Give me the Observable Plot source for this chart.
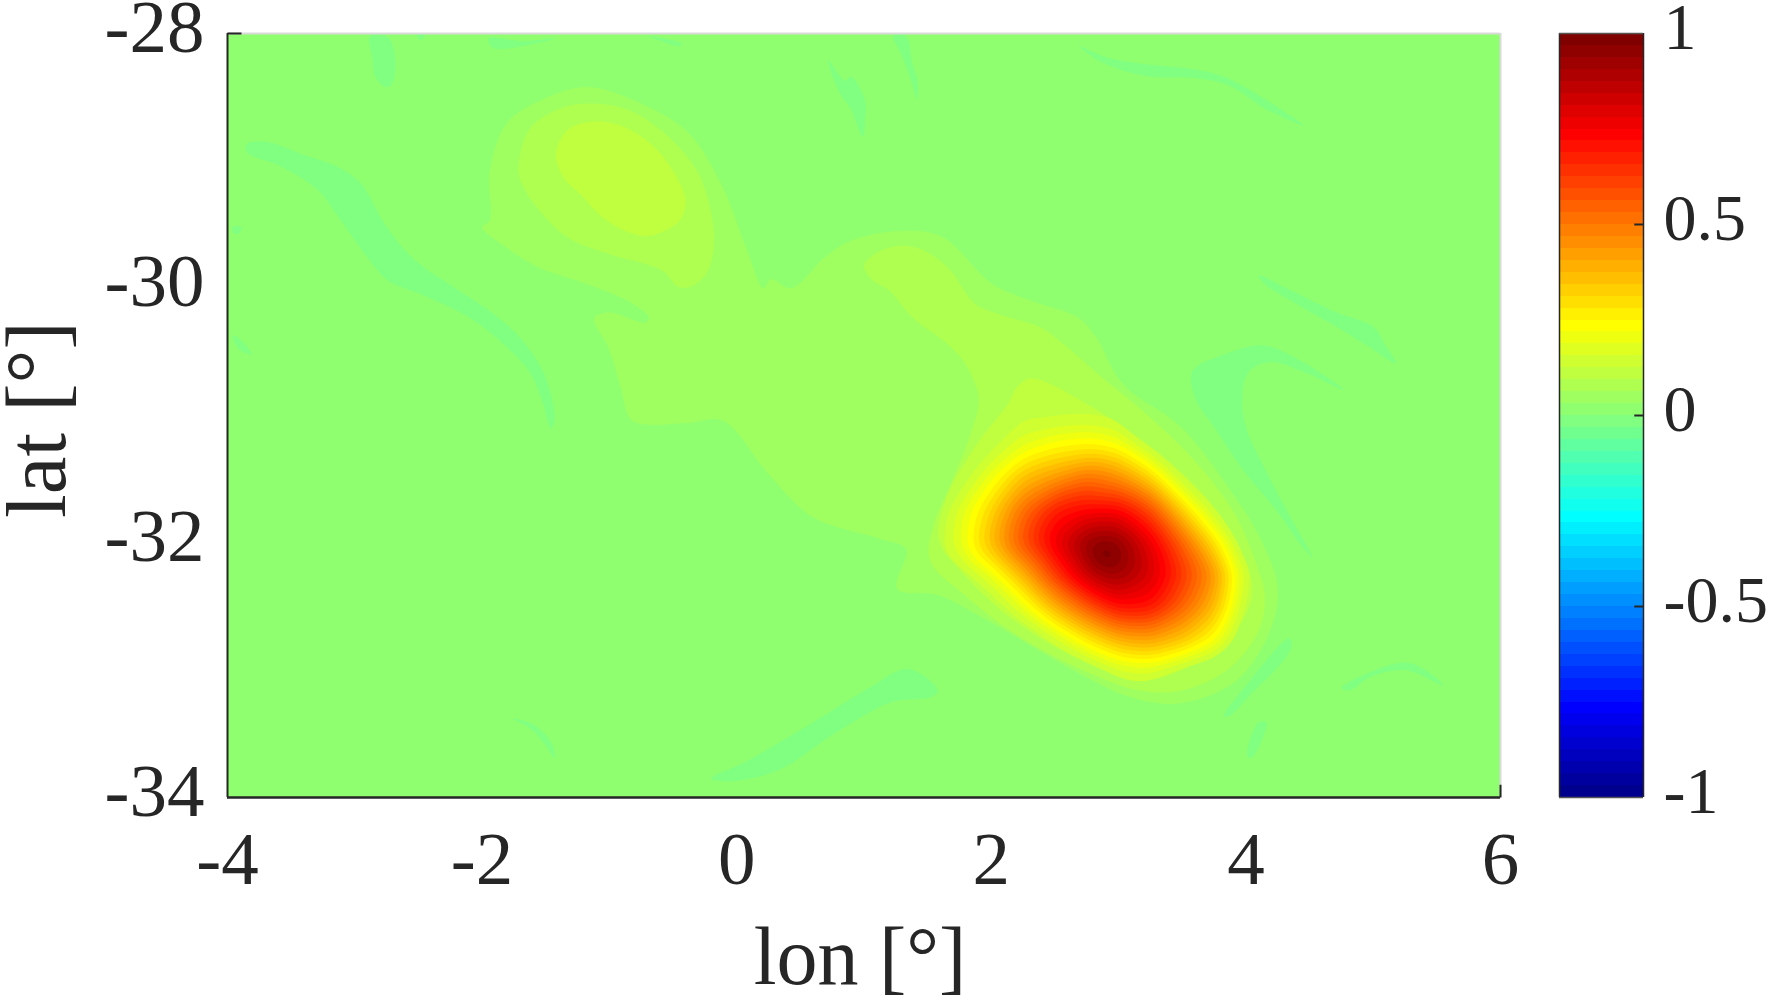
<!DOCTYPE html>
<html>
<head>
<meta charset="utf-8">
<style>
  html, body { margin: 0; padding: 0; background: #fff; }
  #chart { position: relative; width: 1769px; height: 1005px; overflow: hidden; }
  #chart svg { position: absolute; left: 0; top: 0; background: transparent; }
</style>
<script src="https://cdn.jsdelivr.net/npm/d3@7"></script>
<script src="https://cdn.jsdelivr.net/npm/@observablehq/plot@0.6"></script>
</head>
<body>
<div id="chart"></div>
<script>
// Axis ticks
const lonTicks = [-4, -2, 0, 2, 4, 6];
const latTicks = [-28, -30, -32, -34];
const barTicks = [1, 0.5, 0, -0.5, -1];

// Strong anomaly: values read on a lon/lat lattice, row by row
const peakLon = [1.5, 1.75, 2, 2.25, 2.5, 2.75, 3, 3.25, 3.5, 3.75, 4, 4.25];
const peakLat = [-31, -31.25, -31.5, -31.75, -32, -32.25, -32.5, -32.75, -33, -33.25];
const peakRows = [
  [.05, .06, .07, .115, .105, .11, .085, .065, .05, .04, .03, .02],
  [.045, .065, .11, .19, .245, .265, .235, .10, .075, .04, .03, .02],
  [.05, .09, .21, .37, .44, .53, .47, .33, .11, .08, .05, .03],
  [.06, .165, .32, .53, .70, .74, .75, .61, .33, .11, .07, .05],
  [.07, .18, .37, .59, .78, .95, .96, .78, .55, .29, .065, .05],
  [.055, .085, .19, .38, .63, .85, .93, .82, .64, .45, .125, .06],
  [.04, .05, .08, .19, .39, .57, .73, .72, .55, .38, .10, .05],
  [.03, .04, .05, .06, .14, .28, .40, .43, .36, .24, .07, .04],
  [.02, .03, .04, .05, .05, .07, .14, .16, .095, .06, .04, .03],
  [.02, .02, .03, .04, .05, .055, .065, .06, .05, .04, .03, .02]
];
const peakTop = {lon: 2.91, lat: -32.086, value: 1.05};

// Faint contour bands as [lon, lat] outlines
const bandOne = [[-1.17,-28.42],[-.69,-28.58],[-.37,-28.79],[-.11,-29.21],[.08,-29.70],[.21,-30.00],[.27,-29.93],[.43,-30.00],[.69,-29.76],[.89,-29.63],[1.31,-29.55],[1.62,-29.60],[2.01,-29.97],[2.32,-30.10],[2.68,-30.23],[2.82,-30.38],[3.03,-30.75],[3.49,-31.09],[3.88,-31.59],[4.12,-31.98],[4.25,-32.35],[4.19,-32.69],[3.93,-33.08],[3.49,-33.26],[3.09,-33.21],[2.70,-33.03],[1.92,-32.58],[1.58,-32.41],[1.26,-32.36],[1.33,-32.05],[1.13,-31.97],[.60,-31.80],[.25,-31.46],[-.11,-31.04],[-.40,-31.06],[-.82,-31.04],[-.91,-30.78],[-1.01,-30.46],[-1.12,-30.24],[-1.01,-30.19],[-.72,-30.27],[-.69,-30.23],[-.82,-30.12],[-1.17,-29.97],[-1.55,-29.84],[-1.81,-29.68],[-2.00,-29.52],[-1.94,-29.47],[-1.94,-29.08],[-1.81,-28.71],[-1.55,-28.53]];
const bandTwoNorth = [[-1.17,-28.55],[-.85,-28.60],[-.56,-28.79],[-.30,-29.10],[-.19,-29.47],[-.18,-29.68],[-.24,-29.89],[-.37,-29.99],[-.46,-29.99],[-.59,-29.86],[-1.01,-29.73],[-1.33,-29.60],[-1.55,-29.39],[-1.70,-29.15],[-1.71,-29.00],[-1.62,-28.74],[-1.39,-28.59]];
const bandThreeNorth = [[-1.10,-28.69],[-.85,-28.75],[-.62,-28.92],[-.46,-29.15],[-.40,-29.32],[-.45,-29.47],[-.59,-29.56],[-.72,-29.59],[-.88,-29.55],[-1.07,-29.43],[-1.23,-29.26],[-1.36,-29.13],[-1.42,-28.95],[-1.33,-28.76]];
const bandTwoSouth = [[1.00,-29.82],[1.17,-29.69],[1.41,-29.68],[1.66,-29.84],[1.87,-30.12],[2.08,-30.21],[2.39,-30.31],[2.57,-30.44],[2.81,-30.65],[3.22,-30.99],[3.62,-31.38],[3.91,-31.77],[4.09,-32.19],[4.15,-32.43],[4.09,-32.71],[3.85,-33.00],[3.49,-33.16],[3.17,-33.16],[2.70,-32.99],[2.18,-32.71],[1.78,-32.40],[1.52,-32.14],[1.54,-31.88],[1.68,-31.54],[1.84,-31.14],[1.90,-30.91],[1.89,-30.80],[1.78,-30.57],[1.62,-30.41],[1.38,-30.23],[1.20,-30.02],[1.06,-29.93]];
const bandThreeSouth = [[2.31,-30.71],[2.70,-30.88],[3.36,-31.33],[3.75,-31.72],[3.98,-32.11],[4.05,-32.40],[3.88,-32.74],[3.49,-33.00],[3.17,-33.08],[2.70,-32.92],[2.18,-32.61],[1.78,-32.24],[1.59,-31.98],[1.65,-31.64],[1.89,-31.22],[2.13,-30.91],[2.20,-30.78]];

// Slightly negative filaments, [lon, lat] outlines
const negativePatches = [
  [[-3.85,-28.87],[-3.70,-28.85],[-3.41,-28.95],[-3.13,-29.05],[-2.95,-29.18],[-2.77,-29.49],[-2.55,-29.76],[-2.26,-29.97],[-1.94,-30.18],[-1.71,-30.38],[-1.54,-30.62],[-1.47,-30.80],[-1.43,-31.04],[-1.46,-31.10],[-1.52,-30.91],[-1.62,-30.67],[-1.81,-30.46],[-2.07,-30.25],[-2.45,-30.06],[-2.74,-29.94],[-2.90,-29.76],[-3.13,-29.44],[-3.29,-29.23],[-3.57,-29.05],[-3.85,-28.93]],
  [[-2.88,-28.02],[-2.74,-28.03],[-2.68,-28.21],[-2.71,-28.40],[-2.76,-28.42],[-2.84,-28.34],[-2.86,-28.21]],
  [[-1.95,-28.04],[-1.68,-28.06],[-1.43,-28.04],[-1.81,-28.12],[-1.92,-28.11]],
  [[-.70,-28.02],[-.43,-28.08],[-.45,-28.10],[-.62,-28.05]],
  [[-2.52,-28.00],[-2.45,-28.01],[-2.48,-28.05]],
  [[-3.96,-30.37],[-3.88,-30.42],[-3.81,-30.52],[-3.91,-30.48]],
  [[-3.96,-29.52],[-3.89,-29.52],[-3.91,-29.57],[-3.95,-29.57]],
  [[.72,-28.21],[.85,-28.37],[.90,-28.34],[1.01,-28.53],[1.01,-28.66],[.99,-28.81],[.90,-28.60],[.80,-28.45]],
  [[1.23,-28.02],[1.33,-28.02],[1.38,-28.24],[1.42,-28.37],[1.42,-28.52],[1.36,-28.34],[1.29,-28.16]],
  [[2.69,-28.10],[2.92,-28.19],[3.20,-28.24],[3.59,-28.28],[3.83,-28.34],[4.11,-28.49],[4.45,-28.72],[4.15,-28.59],[3.87,-28.41],[3.59,-28.35],[3.27,-28.34],[3.03,-28.29],[2.82,-28.20]],
  [[4.10,-29.90],[4.36,-30.02],[4.71,-30.19],[5.01,-30.31],[5.09,-30.44],[5.18,-30.59],[4.95,-30.45],[4.74,-30.32],[4.39,-30.12],[4.15,-29.97]],
  [[3.58,-30.65],[3.83,-30.52],[4.14,-30.45],[4.43,-30.57],[4.77,-30.80],[4.46,-30.66],[4.19,-30.58],[4.02,-30.66],[3.97,-30.88],[4.01,-31.12],[4.17,-31.46],[4.35,-31.80],[4.52,-32.11],[4.46,-32.05],[4.22,-31.72],[3.98,-31.43],[3.75,-31.09],[3.60,-30.86]],
  [[-.20,-33.85],[.07,-33.72],[.60,-33.41],[1.04,-33.14],[1.35,-32.99],[1.58,-33.16],[1.53,-33.21],[1.22,-33.25],[.78,-33.49],[.34,-33.78],[-.02,-33.87]],
  [[3.83,-33.36],[4.01,-33.11],[4.34,-32.75],[4.36,-32.81],[4.30,-32.92],[4.04,-33.19],[3.87,-33.36]],
  [[4.01,-33.67],[4.10,-33.41],[4.16,-33.41],[4.13,-33.54],[4.04,-33.69]],
  [[4.75,-33.14],[4.99,-33.01],[5.26,-32.94],[5.43,-33.01],[5.55,-33.12],[5.26,-33.00],[4.99,-33.05],[4.81,-33.16]],
  [[-1.76,-33.38],[-1.59,-33.43],[-1.45,-33.58],[-1.43,-33.69],[-1.51,-33.58],[-1.62,-33.46]]
];

// ---- tables and scales built from the arrays above ----
const step = 1 / 32;
const m = 64, n = 16;
const u = j => j <= n ? j / n : j < 2 * n ? 1 : (3 * n - j) / n;
const ch = (i, off) => { const j = i - off; return j >= 1 && j <= 47 ? u(j) : 0; };
const jet = d3.range(1, m + 1).map(i =>
  d3.rgb(255 * ch(i, 24), 255 * ch(i, 8), 255 * ch(i, -8)).formatHex());
const bandFloors = d3.range(-31, 32).map(k => k * step);
const colorScale = {type: "threshold", domain: bandFloors, range: jet};

const outlines = [];
const addOutline = (pts, level, id) => pts.forEach(p => outlines.push({lon: p[0], lat: p[1], level, id}));
addOutline(bandOne, step, "b1");
addOutline(bandTwoNorth, 2 * step, "b2n");
addOutline(bandTwoSouth, 2 * step, "b2s");
addOutline(bandThreeNorth, 3 * step, "b3n");
addOutline(bandThreeSouth, 3 * step, "b3s");
negativePatches.forEach((p, i) => addOutline(p, -step, "n" + i));

const peakCells = [peakTop];
peakRows.forEach((row, r) => row.forEach((value, c) => peakCells.push({lon: peakLon[c], lat: peakLat[r], value})));

const ink = "#262626";
const serif = "Liberation Serif";
const tickFont = 75;
const barFont = 66;
const labelFont = 82;

const main = Plot.plot({
  width: 1769, height: 1005,
  marginLeft: 227, marginRight: 269, marginTop: 33, marginBottom: 208,
  style: {background: "transparent", fontFamily: serif},
  x: {domain: [-4, 6], axis: null},
  y: {domain: [-34, -28], axis: null},
  color: colorScale,
  marks: [
    Plot.rect([0], {x1: () => -4, x2: () => 6, y1: () => -34, y2: () => -28, fill: d => d}),
    Plot.line(outlines, {x: "lon", y: "lat", z: "id", fill: "level", stroke: "none", curve: "catmull-rom-closed", clip: true}),
    Plot.contour(peakCells, {
      x: "lon", y: "lat", fill: "value",
      interpolate: "barycentric", pixelSize: 2, blur: 4,
      thresholds: d3.range(4, 32).map(k => k * step),
      stroke: "none"
    }),
    Plot.ruleY([-28], {stroke: "#d9d9d9", strokeWidth: 2}),
    Plot.ruleX([6], {stroke: "#d9d9d9", strokeWidth: 2}),
    Plot.ruleX([-4], {stroke: ink, strokeWidth: 2}),
    Plot.ruleY([-34], {stroke: ink, strokeWidth: 2.5}),
    Plot.link([0], {x1: () => -4, x2: () => -3.89, y1: () => -28, y2: () => -28, stroke: ink, strokeWidth: 2}),
    Plot.link([0], {x1: () => 6, x2: () => 6, y1: () => -34, y2: () => -33.9, stroke: ink, strokeWidth: 2}),
    Plot.axisX(lonTicks, {anchor: "bottom", tickSize: 0, tickPadding: 33, fontSize: tickFont, fill: ink,
      tickFormat: d => String(d), label: null, fontFamily: serif}),
    Plot.axisY(latTicks, {anchor: "left", tickSize: 0, tickPadding: 23, dy: -6, fontSize: tickFont, fill: ink,
      tickFormat: d => String(d), label: null, fontFamily: serif}),
    Plot.text(["lon [°]"], {frameAnchor: "bottom", dx: -4, dy: 186, lineAnchor: "bottom", fontSize: labelFont, fill: ink, fontFamily: serif}),
    Plot.text(["lat [°]"], {frameAnchor: "left", textAnchor: "middle", rotate: -90, dx: -163, dy: 4, lineAnchor: "bottom", fontSize: 85, fill: ink, fontFamily: serif})
  ]
});

const bar = Plot.plot({
  width: 1769, height: 1005,
  marginLeft: 1559, marginRight: 126, marginTop: 33, marginBottom: 208,
  style: {background: "transparent", fontFamily: serif},
  x: {domain: [0, 1], axis: null},
  y: {domain: [-1, 1], axis: null},
  color: colorScale,
  marks: [
    Plot.rect(d3.range(-32, 32), {x1: () => 0, x2: () => 1, y1: k => k * step, y2: k => (k + 1) * step, fill: k => k * step, shapeRendering: "crispEdges"}),
    Plot.link(barTicks.slice(1, -1), {x1: () => 0.89, x2: () => 1, y1: d => d, y2: d => d, stroke: ink, strokeWidth: 2}),
    Plot.ruleX([0, 1], {stroke: ink, strokeWidth: 1.5}),
    Plot.ruleY([-1, 1], {stroke: "#555", strokeWidth: 1.5}),
    Plot.text(barTicks, {x: () => 1, y: d => d, text: d => String(d), textAnchor: "start", dx: 20, dy: -6,
      fontSize: barFont, fill: ink, fontFamily: serif})
  ]
});

document.getElementById("chart").append(main, bar);
</script>
</body>
</html>
